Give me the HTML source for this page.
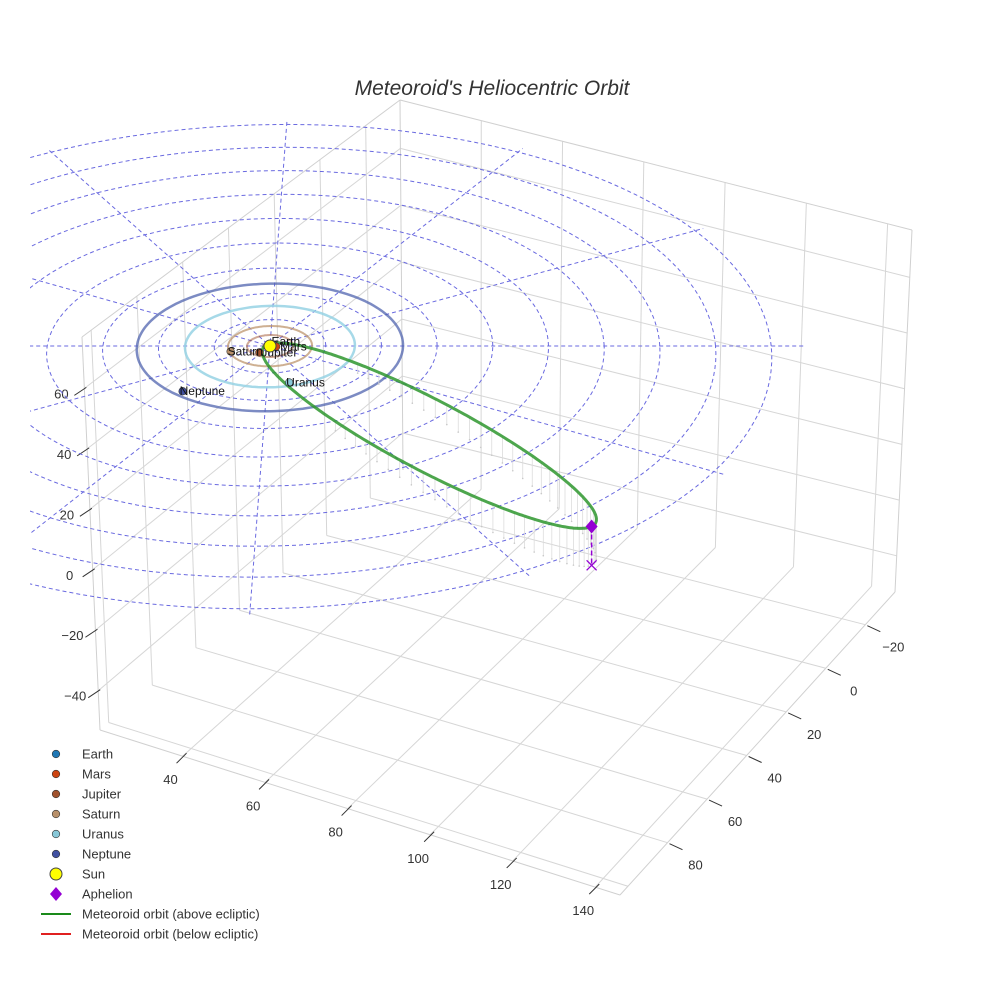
<!DOCTYPE html>
<html><head><meta charset="utf-8"><style>
html,body{margin:0;padding:0;background:#fff;}
svg{display:block;font-family:"Liberation Sans",sans-serif;}
</style></head><body>
<svg id="chart" width="984" height="984" viewBox="0 0 984 984" xmlns="http://www.w3.org/2000/svg">
<rect width="984" height="984" fill="#fff"/>
<text x="492" y="95" text-anchor="middle" font-size="21" font-style="italic" fill="#333">Meteoroid's Heliocentric Orbit</text>
<g id="box"></g>
<defs><clipPath id="eclClip"><rect x="30" y="0" width="954" height="984"/></clipPath></defs>
<g id="ecl" clip-path="url(#eclClip)"></g>
<g id="orb"></g>
<g id="leg"></g>
</svg>
<script>
// ---- data ----
const xTicks=[40,60,80,100,120,140];
const yTicks=[-20,0,20,40,60,80];
const zTicks=[-40,-20,0,20,40,60];
const xGrid=[40,60,80,100,120,140];
const yGrid=[-20,0,20,40,60,80,100];
const zGrid=[-40,-20,0,20,40,60];
const ringRadii=[12.6,25.2,37.8,50.4,63,75.6,88.2,100.8,113.4];
const radialAngles=[0,30,60,90,120,150];
const planetNames=["Earth","Mars","Jupiter","Saturn","Uranus","Neptune"];
const planetOrbit=[1,1.52,5.2,9.5,19.2,30.1];
const planetX=[1.0,1.4,-2.3,-8.8,4.9,-18.7];
const planetY=[0.3,-0.3,-3.0,-2.6,-17.0,-21.0];
const planetColors=["#1f77b4","#cc4411","#a0522d","#b8906a","#88c8d8","#4050a0"];
const orbitColors=["rgba(31,119,180,0.5)","rgba(204,68,17,0.5)","rgba(160,82,45,0.5)","rgba(190,150,110,0.75)","rgba(150,210,228,0.85)","rgba(80,100,175,0.75)"];
const aphelion=[71,-96,12];   // AU
const perihelionQ=[1.0];      // AU

const NS="http://www.w3.org/2000/svg";
function mk(tag,attrs,parent){const e=document.createElementNS(NS,tag);for(const k in attrs)e.setAttribute(k,attrs[k]);parent.appendChild(e);return e;}

const XR=[20,146],YR=[-35,104],ZR=[-53,77];
const C={
 b:{ "00":[403,470],"10":[895,592],"01":[100,730],"11":[620,895]},
 t:{ "00":[400,100],"10":[912,230],"01":[82,337],"11":[630,520]}};
function bil(c,u,v){const a=c["00"],b=c["10"],d=c["01"],e=c["11"];
 return [a[0]*(1-u)*(1-v)+b[0]*u*(1-v)+d[0]*(1-u)*v+e[0]*u*v, a[1]*(1-u)*(1-v)+b[1]*u*(1-v)+d[1]*(1-u)*v+e[1]*u*v];}
function P(x,y,z){const u=(x-XR[0])/(XR[1]-XR[0]),v=(y-YR[0])/(YR[1]-YR[0]),w=(z-ZR[0])/(ZR[1]-ZR[0]);
 const p=bil(C.b,u,v),q=bil(C.t,u,v);return [p[0]+(q[0]-p[0])*w,p[1]+(q[1]-p[1])*w];}
const box=document.getElementById('box');
function line(g,a,b,st,w,name){const l=mk('line',{x1:a[0],y1:a[1],x2:b[0],y2:b[1],stroke:st,'stroke-width':w},g);
 
 return l;}
const GC="#d6d6d6";
xGrid.forEach(x=>line(box,P(x,YR[0],ZR[0]),P(x,YR[1],ZR[0]),GC,1,'floor-gridline-x'));
yGrid.forEach(y=>line(box,P(XR[0],y,ZR[0]),P(XR[1],y,ZR[0]),GC,1,'floor-gridline-y'));
yGrid.forEach(y=>line(box,P(XR[0],y,ZR[0]),P(XR[0],y,ZR[1]),GC,1,'left-wall-gridline-y'));
zGrid.forEach(z=>line(box,P(XR[0],YR[0],z),P(XR[0],YR[1],z),GC,1,'left-wall-gridline-z'));
xGrid.forEach(x=>line(box,P(x,YR[0],ZR[0]),P(x,YR[0],ZR[1]),GC,1,'back-wall-gridline-x'));
zGrid.forEach(z=>line(box,P(XR[0],YR[0],z),P(XR[1],YR[0],z),GC,1,'back-wall-gridline-z'));
[[[XR[0],YR[1],ZR[0]],[XR[1],YR[1],ZR[0]]],[[XR[1],YR[1],ZR[0]],[XR[1],YR[0],ZR[0]]],
 [[XR[0],YR[1],ZR[0]],[XR[0],YR[1],ZR[1]]],[[XR[1],YR[0],ZR[0]],[XR[1],YR[0],ZR[1]]],
 [[XR[0],YR[0],ZR[1]],[XR[0],YR[1],ZR[1]]],[[XR[0],YR[0],ZR[1]],[XR[1],YR[0],ZR[1]]],
 [[XR[0],YR[0],ZR[0]],[XR[0],YR[0],ZR[1]]]].forEach(e=>line(box,P(...e[0]),P(...e[1]),"#d0d0d0",1,'box-edge'));
function tickLabel(p,dx,dy,txt,name){const t=mk('text',{x:p[0]+dx,y:p[1]+dy,'font-size':13,fill:'#333','text-anchor':'middle'},box);t.textContent=txt;
 
 }
xTicks.forEach(x=>{const p=P(x,YR[1],ZR[0]);line(box,[p[0]-6,p[1]+7],[p[0]+4,p[1]-3],"#333",1,'x-tick');tickLabel(p,-12,28,String(x),'x-tick-label');});
yTicks.forEach(y=>{const p=P(XR[1],y,ZR[0]);line(box,[p[0]+2,p[1]+1],[p[0]+15,p[1]+7],"#333",1,'y-tick');tickLabel(p,28,27,y<0?"\u2212"+(-y):String(y),'y-tick-label');});
zTicks.forEach(z=>{const p=P(XR[0],YR[1],z);line(box,[p[0]-10,p[1]+7],[p[0]+2,p[1]-1],"#333",1,'z-tick');tickLabel(p,-23,10,z<0?"\u2212"+(-z):String(z),'z-tick-label');});

const O=[270,346];
function E(X,Y,Z){const f=1/(1+0.00075*Y);return [O[0]+(4.42*X+0.16*Y)*f, O[1]+(-2.12*Y)*f-3.0*Z*f];}
const ecl=document.getElementById('ecl');
function poly(g,pts,attrs,name){const d=pts.map((p,i)=>(i?'L':'M')+p[0].toFixed(1)+' '+p[1].toFixed(1)).join(' ');
 const a=Object.assign({d:d,fill:'none'},attrs);const e=mk('path',a,g);
 
 return e;}
function circ(r){const pts=[];for(let i=0;i<=180;i++){const t=i/180*2*Math.PI;pts.push(E(r*Math.cos(t),r*Math.sin(t),0));}return pts;}
const DASH={stroke:'#6a6ae0','stroke-width':1,'stroke-dasharray':'4,3'};
ringRadii.forEach(r=>poly(ecl,circ(r),DASH,'ecliptic-ring'));
const Rmax=ringRadii[ringRadii.length-1]*1.02;
radialAngles.forEach(a=>{const t=a*Math.PI/180;const ext=a===0?121:Rmax;
 poly(ecl,[E(-ext*Math.cos(t),-ext*Math.sin(t),0),E(ext*Math.cos(t),ext*Math.sin(t),0)],DASH,'ecliptic-radial-line');});

const orb=document.getElementById('orb');
planetOrbit.forEach((r,i)=>poly(orb,circ(r),{stroke:orbitColors[i],'stroke-width':i>=4?2.5:2},'orbit-'+planetNames[i].toLowerCase()));

const A=aphelion,Q=Math.hypot(A[0],A[1],A[2]),q=perihelionQ[0];
const a=(Q+q)/2,e=(Q-q)/(Q+q),b=a*Math.sqrt(1-e*e);
const u=[A[0]/Q,A[1]/Q,A[2]/Q];
let v=[-u[1],u[0],0];const vn=Math.hypot(v[0],v[1]);v=[v[0]/vn,v[1]/vn,0.1];
function orbitPt(Ea){const sb=b*Math.sin(Ea);
 const along=a*Math.cos(Ea)+(Q-a);return [u[0]*along+v[0]*sb,u[1]*along+v[1]*sb,Math.max(0,u[2]*along+v[2]*sb)];}
const opts=[];for(let i=0;i<=360;i++){opts.push(orbitPt(i*Math.PI/180));}
for(let i=0;i<360;i+=4){const p=opts[i];if(p[2]>3){
 const top=E(p[0],p[1],p[2]),bot=E(p[0],p[1],0);
 line(orb,top,bot,'#dcdcdc',0.8,'orbit-stem');
 const d=mk('circle',{cx:bot[0],cy:bot[1],r:0.8,fill:'#c8c8c8'},orb);
 
 }}
poly(orb,opts.map(p=>E(...p)),{stroke:'#2e962e','stroke-width':3,'stroke-opacity':0.85},'meteoroid-orbit-above');

const ap=E(A[0],A[1],A[2]),apf=E(A[0],A[1],0);
line(orb,ap,apf,'#9400d3',1.5,'aphelion-drop-line').setAttribute('stroke-dasharray','5,3');
const xm=mk('path',{d:`M${apf[0]-5} ${apf[1]-5}L${apf[0]+5} ${apf[1]+5}M${apf[0]+5} ${apf[1]-5}L${apf[0]-5} ${apf[1]+5}`,stroke:'#9400d3','stroke-width':1.3},orb);


const dm=mk('path',{d:`M${ap[0]} ${ap[1]-7}L${ap[0]+6} ${ap[1]}L${ap[0]} ${ap[1]+7}L${ap[0]-6} ${ap[1]}Z`,fill:'#9400d3'},orb);



planetNames.forEach((n,i)=>{const p=E(planetX[i],planetY[i],0);
 const c=mk('circle',{cx:p[0],cy:p[1],r:3.8,fill:planetColors[i],stroke:'#333','stroke-width':0.6},orb);
 
 
 const dx=(n==="Earth")?-3:(n==="Mars"?4:(n==="Jupiter"?2:-3));const dy=(n==="Earth")?0:4;
 const t=mk('text',{x:p[0]+dx,y:p[1]+dy,'font-size':12,fill:'#111'},orb);t.textContent=n;
 
 });
const sp=E(0,0,0);
const sun=mk('circle',{cx:sp[0],cy:sp[1],r:6,fill:'#ffff00',stroke:'#444','stroke-width':1},orb);



const leg=document.getElementById('leg');
const legNames=["Earth","Mars","Jupiter","Saturn","Uranus","Neptune","Sun","Aphelion","Meteoroid orbit (above ecliptic)","Meteoroid orbit (below ecliptic)"];
legNames.forEach((n,i)=>{const y=754+i*20;const g=mk('g',{},leg);
 
 
 if(i<6)mk('circle',{cx:56,cy:y,r:3.8,fill:planetColors[i],stroke:'#333','stroke-width':0.6},g);
 else if(i===6)mk('circle',{cx:56,cy:y,r:6,fill:'#ffff00',stroke:'#444','stroke-width':1},g);
 else if(i===7)mk('path',{d:`M56 ${y-7}L62 ${y}L56 ${y+7}L50 ${y}Z`,fill:'#9400d3'},g);
 else mk('line',{x1:41,y1:y,x2:71,y2:y,stroke:i===8?'#1a8a1a':'#e02020','stroke-width':2},g);
 const t=mk('text',{x:82,y:y+4.5,'font-size':13,fill:'#333'},g);t.textContent=n;});
</script>
</body></html>
